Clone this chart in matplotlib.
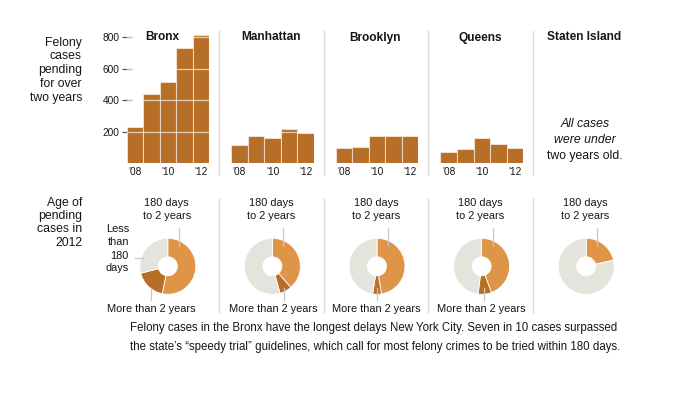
import math
import matplotlib
matplotlib.use("Agg")
import matplotlib.pyplot as plt
from matplotlib.lines import Line2D

plt.rcParams['font.family'] = ['Liberation Sans', 'DejaVu Sans']

# ---------------- data ----------------
boroughs = ['Bronx', 'Manhattan', 'Brooklyn', 'Queens', 'Staten Island']
years = ['2008', '2009', '2010', '2011', '2012']
year_tick_labels = ["'08", "'10", "'12"]
year_tick_index = [0, 2, 4]

bronx_pending = [233, 437, 516, 734, 815]
manhattan_pending = [116, 176, 161, 218, 195]
brooklyn_pending = [95, 104, 172, 172, 172]
queens_pending = [70, 91, 161, 121, 97]
staten_pending = []          # all cases under two years old

y_ticks = [200, 400, 600, 800]

# shares of cases pending in 2012: [180 days to 2 years, more than 2 years, less than 180 days]
bronx_age = [0.532, 0.178, 0.290]
manhattan_age = [0.386, 0.070, 0.544]
brooklyn_age = [0.475, 0.050, 0.475]
queens_age = [0.443, 0.077, 0.480]
staten_age = [0.215, 0.0, 0.785]

pending = [bronx_pending, manhattan_pending, brooklyn_pending, queens_pending, staten_pending]
ages = [bronx_age, manhattan_age, brooklyn_age, queens_age, staten_age]

caption = ["Felony cases in the Bronx have the longest delays New York City. Seven in 10 cases surpassed",
           "the state\u2019s \u201cspeedy trial\u201d guidelines, which call for most felony crimes to be tried within 180 days."]

# ---------------- style / layout ----------------
W, H = 690, 398
BAR = '#b76e26'
LIGHT = '#de9547'
GRAY = '#e4e3dc'
TXT = '#161616'
LINE = '#c8c8c8'
SEP = '#dcdcdc'

fig = plt.figure(figsize=(W / 100, H / 100), dpi=100)
fig.patch.set_facecolor('white')


def fx(x):
    return x / W


def fy(y):
    return 1 - y / H


col_left0 = 114.5
col_w = 104.6
title_x = [162, 271.5, 375.5, 480, 584.5]

# left labels
for txt, yy in zip(["Felony", "cases", "pending", "for over", "two years"],
                   [42.7, 56.4, 70.2, 83.9, 97.7]):
    fig.text(fx(82), fy(yy), txt, ha='right', va='center', fontsize=8.8, color=TXT)
for txt, yy in zip(["Age of", "pending", "cases in", "2012"], [202.7, 216, 229.3, 243.3]):
    fig.text(fx(82.5), fy(yy), txt, ha='right', va='center', fontsize=8.8, color=TXT)

# separators
for i in range(1, 5):
    x = col_left0 + col_w * i
    fig.add_artist(Line2D([fx(x), fx(x)], [fy(31), fy(175)], color=SEP, lw=1.0))
    fig.add_artist(Line2D([fx(x), fx(x)], [fy(198), fy(313)], color=SEP, lw=1.0))

# titles
for i, name in enumerate(boroughs):
    fig.text(fx(title_x[i]), fy(37.5), name, ha='center', va='center', fontsize=8.6,
             fontweight='bold', color=TXT)

# bar panels
base_px, top_px = 163.3, 29.4
for i, vals in enumerate(pending):
    cl = col_left0 + col_w * i
    if not vals:
        cx = cl + col_w / 2
        fig.text(fx(cx), fy(124), "All cases", ha='center', va='center', fontsize=8.8,
                 style='italic', color=TXT)
        fig.text(fx(cx), fy(139.8), "were under", ha='center', va='center', fontsize=8.8,
                 style='italic', color=TXT)
        fig.text(fx(cx), fy(156), "two years old.", ha='center', va='center', fontsize=8.8,
                 color=TXT)
        continue
    ax = fig.add_axes([fx(cl + 12.2), fy(base_px), 82.6 / W, (base_px - top_px) / H])
    ax.bar(range(len(vals)), vals, width=1.0, color=BAR,
           edgecolor=(1, 1, 1, 0.55), linewidth=0.8, zorder=2)
    for y in y_ticks:
        ax.axhline(y, color='white', alpha=0.65, lw=0.9, zorder=3)
    ax.set_xlim(-0.5, len(vals) - 0.5)
    ax.set_ylim(0, 850)
    for s in ax.spines.values():
        s.set_visible(False)
    ax.set_xticks(year_tick_index)
    ax.set_xticklabels(year_tick_labels)
    ax.tick_params(axis='x', length=0, pad=3, labelsize=7.3, labelcolor=TXT)
    ax.set_axisbelow(True)
    if i == 0:
        ax.set_yticks(y_ticks)
        ax.set_yticklabels([str(v) for v in y_ticks])
        ax.tick_params(axis='y', direction='inout', length=7, width=0.9, color='#555555',
                       labelsize=7.3, labelcolor=TXT, pad=1.5)
    else:
        ax.set_yticks([])
    ax.patch.set_visible(False)

# donut panels
R_OUT, R_W = 28, 18.5
bottom_label_dx = [-15.6, 2.4, 0.0, 0.7]
for i, vals in enumerate(ages):
    cl = col_left0 + col_w * i
    ax = fig.add_axes([fx(cl), fy(318), col_w / W, 128 / H])
    colors_all = [LIGHT, BAR, GRAY]
    v = [a for a in vals if a > 0]
    c = [colors_all[k] for k, a in enumerate(vals) if a > 0]
    ax.pie(v, colors=c, radius=R_OUT, center=(1, 0), startangle=90, counterclock=False,
           wedgeprops=dict(width=R_W, edgecolor='white', linewidth=0.6))
    ax.set_aspect('auto')
    ax.set_xlim(-col_w / 2, col_w / 2)
    ax.set_ylim(-51.7, 76.3)
    ax.axis('off')
    # top label
    ax.text(0, 63.6, "180 days", ha='center', va='center', fontsize=7.9, color=TXT)
    ax.text(0, 50.6, "to 2 years", ha='center', va='center', fontsize=7.9, color=TXT)
    ax.plot([12, 12], [38, 20.5], color=LINE, lw=0.9, zorder=5)
    if vals[1] > 0:
        mid = (vals[0] + vals[1] / 2) * 2 * math.pi
        lx = 1 + 25 * math.sin(mid)
        ax.plot([lx, lx], [-22, -33.7], color=LINE, lw=0.9, zorder=5)
        ax.text(bottom_label_dx[i], -43, "More than 2 years", ha='center', va='center',
                fontsize=7.9, color=TXT)
    if i == 0:
        for txt, yy in zip(["Less", "than", "180", "days"], [37, 24, 10.6, -2]):
            ax.text(-37.8, yy, txt, ha='right', va='center', fontsize=7.9, color=TXT)
        ax.plot([-31.8, -23.8], [8.6, 8.6], color=LINE, lw=0.9, zorder=5)

# caption
fig.text(fx(130), fy(327.7), caption[0], ha='left', va='center', fontsize=8.3, color=TXT)
fig.text(fx(130), fy(347.3), caption[1], ha='left', va='center', fontsize=8.3, color=TXT)

fig.savefig('out.png', dpi=100, facecolor='white')
